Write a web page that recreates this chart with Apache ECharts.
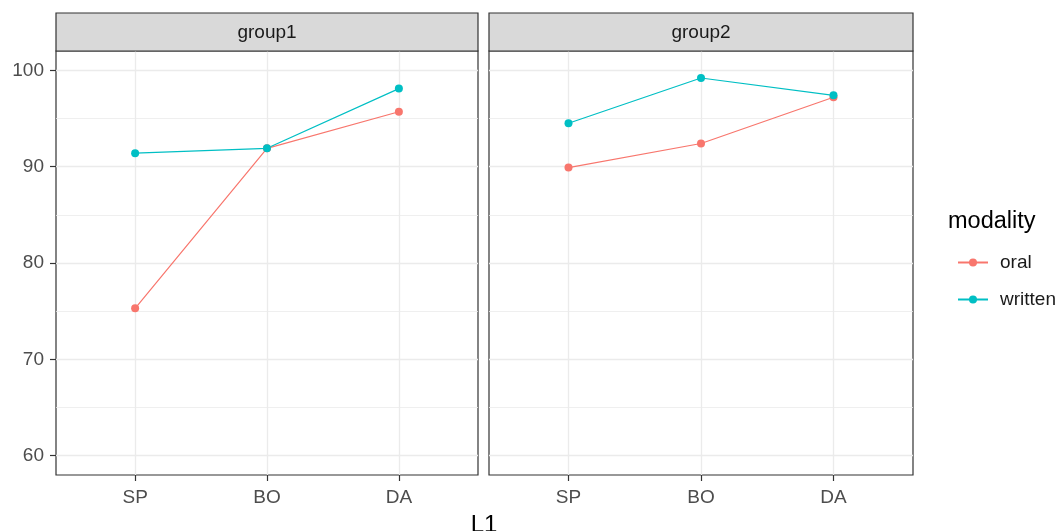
<!DOCTYPE html>
<html><head><meta charset="utf-8">
<script src="https://cdn.jsdelivr.net/npm/echarts@6/dist/echarts.min.js"></script>
<style>html,body{margin:0;padding:0;background:#fff}#c{width:1060px;height:531px}</style>
</head><body><div id="c"></div>
<script>
const categories = ['SP', 'BO', 'DA'];
const xPositions = [1, 2, 3];
const panels = ['group1', 'group2'];
const modalities = ['oral', 'written'];
const group1Oral = [75.3, 91.9, 95.7];
const group1Written = [91.4, 91.9, 98.1];
const group2Oral = [89.9, 92.4, 97.2];
const group2Written = [94.5, 99.2, 97.4];
const yMajorTicks = [60, 70, 80, 90, 100];
const yMinorTicks = [65, 75, 85, 95];
const colors = { oral: '#F8766D', written: '#00BFC4' };

const FONT = '"Liberation Sans", Arial, sans-serif';
const grids = [
  { left: 56, top: 51, width: 422, bottom: 56 },
  { left: 489, top: 51, width: 424, bottom: 56 }
];

const xAxes = grids.map((g, i) => ({
  type: 'value', gridIndex: i, min: 0.4, max: 3.6,
  axisLine: { show: false },
  splitLine: { show: false },
  axisTick: { show: true, customValues: xPositions, length: 6, lineStyle: { color: '#333', width: 1.2 } },
  axisLabel: { show: true, customValues: xPositions, margin: 13,
    formatter: v => categories[Math.round(v) - 1] || '',
    color: '#4d4d4d', fontSize: 19, fontFamily: FONT }
}));
const yAxes = grids.map((g, i) => ({
  type: 'value', gridIndex: i, min: 58, max: 102,
  axisLine: { show: false },
  splitLine: { show: false },
  axisTick: { show: i === 0, customValues: yMajorTicks, length: 6, lineStyle: { color: '#333', width: 1.2 } },
  axisLabel: { show: i === 0, customValues: yMajorTicks, margin: 12,
    color: '#4d4d4d', fontSize: 19, fontFamily: FONT }
}));

const series = [];
grids.forEach((g, i) => {
  series.push({
    type: 'line', name: '_grid' + i, xAxisIndex: i, yAxisIndex: i, data: [], z: 0, silent: true,
    markLine: {
      silent: true, z: 0, symbol: ['none', 'none'], label: { show: false }, animation: false,
      data: [
        ...yMinorTicks.map(v => ({ yAxis: v, lineStyle: { color: '#ebebeb', width: 0.8, type: 'solid' } })),
        ...yMajorTicks.map(v => ({ yAxis: v, lineStyle: { color: '#ebebeb', width: 1.3, type: 'solid' } })),
        ...xPositions.map(v => ({ xAxis: v, lineStyle: { color: '#ebebeb', width: 1.3, type: 'solid' } }))
      ]
    }
  });
});
const panelData = [[group1Oral, group1Written], [group2Oral, group2Written]];
panelData.forEach((pair, i) => {
  pair.forEach((vals, j) => {
    const m = modalities[j];
    series.push({
      type: 'line', name: m, xAxisIndex: i, yAxisIndex: i, z: 10,
      data: xPositions.map((x, k) => [x, vals[k]]),
      symbol: 'circle', symbolSize: 8, showSymbol: true,
      lineStyle: { color: colors[m], width: 1.2 },
      itemStyle: { color: colors[m] },
      animation: false
    });
  });
});

const graphic = [];
grids.forEach((g, i) => {
  graphic.push({ type: 'rect', shape: { x: g.left, y: 13, width: g.width, height: 38 },
    style: { fill: '#d9d9d9', stroke: '#333', lineWidth: 1.2 }, z: 10 });
  graphic.push({ type: 'text', x: g.left + g.width / 2, y: 33,
    style: { text: panels[i], textAlign: 'center', textVerticalAlign: 'middle',
      font: '19px ' + FONT, fill: '#1a1a1a' }, z: 11 });
});
graphic.push({ type: 'text', x: 484, y: 525,
  style: { text: 'L1', textAlign: 'center', textVerticalAlign: 'middle', font: '24px ' + FONT, fill: '#000' } });
graphic.push({ type: 'text', x: 948, y: 222,
  style: { text: 'modality', textAlign: 'left', textVerticalAlign: 'middle', font: '23.5px ' + FONT, fill: '#000' } });

const chart = echarts.init(document.getElementById('c'), null, { renderer: 'canvas' });
chart.setOption({
  backgroundColor: '#fff',
  animation: false,
  grid: grids.map(g => Object.assign({ show: true, borderColor: '#333', borderWidth: 1.2, backgroundColor: 'transparent' }, g)),
  xAxis: xAxes,
  yAxis: yAxes,
  legend: {
    data: modalities, orient: 'vertical', left: 952, top: 248,
    itemWidth: 30, itemHeight: 10, itemGap: 18,
    textStyle: { fontSize: 19, fontFamily: FONT, color: '#1a1a1a', padding: [0, 0, 0, 7] }
  },
  graphic: graphic,
  series: series
});
</script></body></html>
